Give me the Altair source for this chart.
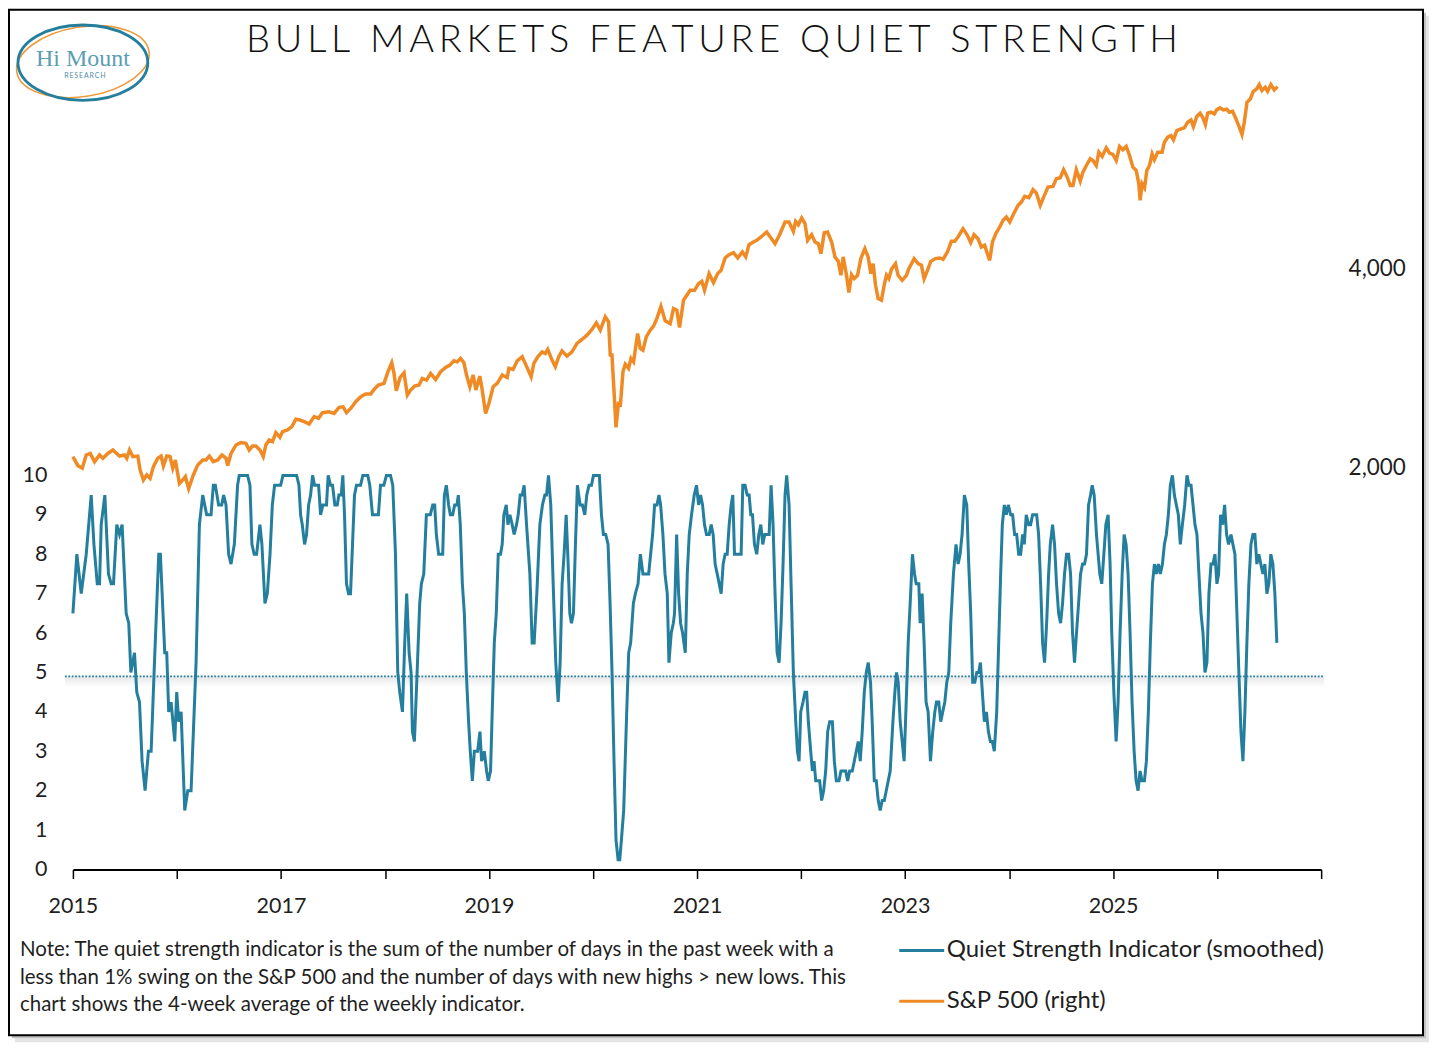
import altair as alt
import pandas as pd

# Quiet strength indicator (4-week average)
qs_year = [
    2015.000, 2015.038, 2015.080, 2015.128, 2015.176, 2015.202, 2015.234, 2015.256, 2015.272, 2015.307,
    2015.342, 2015.368, 2015.390, 2015.422, 2015.448, 2015.473, 2015.512, 2015.537, 2015.557, 2015.592,
    2015.614, 2015.640, 2015.665, 2015.694, 2015.726, 2015.752, 2015.784, 2015.825, 2015.841, 2015.883,
    2015.902, 2015.921, 2015.944, 2015.979, 2015.998, 2016.017, 2016.040, 2016.075, 2016.104, 2016.136,
    2016.184, 2016.216, 2016.248, 2016.286, 2016.328, 2016.350, 2016.369, 2016.401, 2016.430, 2016.449,
    2016.472, 2016.497, 2016.520, 2016.552, 2016.583, 2016.599, 2016.679, 2016.702, 2016.721, 2016.743,
    2016.766, 2016.798, 2016.817, 2016.846,
    2016.869, 2016.895, 2016.917, 2016.939, 2016.997, 2017.019, 2017.151, 2017.173, 2017.189, 2017.205,
    2017.227, 2017.246, 2017.266, 2017.285, 2017.304, 2017.323, 2017.362, 2017.381, 2017.403, 2017.438,
    2017.454, 2017.477, 2017.496, 2017.518, 2017.541, 2017.557, 2017.579, 2017.595, 2017.611, 2017.630,
    2017.650, 2017.669, 2017.688, 2017.707, 2017.726, 2017.765, 2017.787, 2017.835, 2017.854, 2017.880,
    2017.937, 2017.957, 2017.989, 2018.014, 2018.053, 2018.075, 2018.101, 2018.123, 2018.142, 2018.168,
    2018.190, 2018.209, 2018.232, 2018.251, 2018.264, 2018.283, 2018.309, 2018.334, 2018.350, 2018.373,
    2018.398, 2018.436, 2018.459, 2018.478, 2018.494, 2018.516, 2018.555, 2018.571, 2018.590, 2018.612,
    2018.628, 2018.651, 2018.670, 2018.692, 2018.705, 2018.724, 2018.744, 2018.763, 2018.782, 2018.804,
    2018.820, 2018.840, 2018.859,
    2018.891, 2018.913, 2018.929, 2018.955, 2018.977, 2018.993, 2019.015, 2019.031, 2019.051, 2019.070,
    2019.089, 2019.111, 2019.127, 2019.143, 2019.166, 2019.182, 2019.201, 2019.223, 2019.242, 2019.265,
    2019.281, 2019.300, 2019.319, 2019.338, 2019.361, 2019.393, 2019.415, 2019.434, 2019.460, 2019.489,
    2019.514, 2019.537, 2019.553, 2019.572, 2019.594, 2019.617, 2019.642, 2019.665, 2019.684, 2019.703,
    2019.722, 2019.742, 2019.761, 2019.777, 2019.793, 2019.812, 2019.831, 2019.850, 2019.876, 2019.898,
    2019.921, 2019.940, 2019.962, 2019.985, 2020.004, 2020.061, 2020.081, 2020.100, 2020.122, 2020.145,
    2020.164, 2020.183, 2020.202, 2020.221, 2020.241, 2020.257, 2020.273, 2020.295, 2020.321, 2020.343,
    2020.362, 2020.388, 2020.407, 2020.433, 2020.455, 2020.480, 2020.500, 2020.535, 2020.554, 2020.573,
    2020.592, 2020.615, 2020.634, 2020.650, 2020.672, 2020.692, 2020.714, 2020.730, 2020.752, 2020.772,
    2020.784, 2020.804, 2020.823, 2020.842, 2020.861,
    2020.887, 2020.906, 2020.925, 2020.947, 2020.973, 2020.995, 2021.015, 2021.034, 2021.053, 2021.072,
    2021.091, 2021.117, 2021.136, 2021.155, 2021.174, 2021.194, 2021.213, 2021.232, 2021.251, 2021.270,
    2021.290, 2021.309, 2021.328, 2021.344, 2021.360, 2021.424, 2021.440, 2021.462, 2021.482, 2021.501,
    2021.517, 2021.533, 2021.552, 2021.574, 2021.594, 2021.613, 2021.632, 2021.651, 2021.693, 2021.712,
    2021.731, 2021.750, 2021.770, 2021.789, 2021.808, 2021.827, 2021.846, 2021.862, 2021.885, 2021.904,
    2021.926, 2021.949, 2021.965, 2021.981, 2021.997, 2022.019, 2022.038, 2022.054, 2022.070, 2022.093,
    2022.109, 2022.125, 2022.141, 2022.179, 2022.198, 2022.217, 2022.237, 2022.256, 2022.275, 2022.301,
    2022.320, 2022.339, 2022.365, 2022.384, 2022.429, 2022.448, 2022.467, 2022.492, 2022.512, 2022.531,
    2022.550, 2022.569, 2022.588, 2022.608, 2022.627, 2022.646, 2022.668, 2022.684, 2022.704, 2022.723,
    2022.742, 2022.761, 2022.780, 2022.800, 2022.819, 2022.838, 2022.857,
    2022.883, 2022.902, 2022.918, 2022.934, 2022.953, 2022.972, 2022.991, 2023.011, 2023.030, 2023.049,
    2023.071, 2023.091, 2023.107, 2023.132, 2023.145, 2023.164, 2023.183, 2023.202, 2023.222, 2023.244,
    2023.266, 2023.286, 2023.302, 2023.324, 2023.343, 2023.362, 2023.382, 2023.401, 2023.420, 2023.439,
    2023.465, 2023.490, 2023.510, 2023.529, 2023.548, 2023.570, 2023.593, 2023.612, 2023.631, 2023.650,
    2023.670, 2023.689, 2023.708, 2023.724, 2023.743, 2023.762, 2023.782, 2023.801, 2023.820, 2023.839,
    2023.858, 2023.881, 2023.900, 2023.919, 2023.935, 2023.954, 2023.973, 2023.993, 2024.015, 2024.034,
    2024.053, 2024.073, 2024.092, 2024.111, 2024.130, 2024.146, 2024.165, 2024.188, 2024.207, 2024.226,
    2024.265, 2024.284, 2024.303, 2024.322, 2024.341, 2024.361, 2024.380, 2024.396, 2024.418, 2024.437,
    2024.456, 2024.476, 2024.495, 2024.514, 2024.533, 2024.552, 2024.572, 2024.591, 2024.610, 2024.629,
    2024.648, 2024.668, 2024.687, 2024.706, 2024.725, 2024.744, 2024.764, 2024.783, 2024.799, 2024.818,
    2024.840,
    2024.872, 2024.891, 2024.911, 2024.930, 2024.952, 2024.971, 2024.987, 2025.007, 2025.029, 2025.048,
    2025.067, 2025.087, 2025.106, 2025.125, 2025.144, 2025.163, 2025.182, 2025.202, 2025.221, 2025.240,
    2025.259, 2025.278, 2025.301, 2025.320, 2025.339, 2025.358, 2025.378, 2025.397, 2025.416, 2025.435,
    2025.454, 2025.474, 2025.493, 2025.512, 2025.531, 2025.550, 2025.570, 2025.589, 2025.608, 2025.627,
    2025.646, 2025.666, 2025.688, 2025.710, 2025.730, 2025.749, 2025.768, 2025.787, 2025.806, 2025.825,
    2025.845, 2025.864, 2025.883, 2025.902, 2025.921, 2025.941, 2025.960, 2025.979, 2025.998, 2026.014,
    2026.033, 2026.053, 2026.072, 2026.091, 2026.110, 2026.133, 2026.152, 2026.171, 2026.190, 2026.209,
    2026.229, 2026.248, 2026.267, 2026.286, 2026.305, 2026.325, 2026.344, 2026.363, 2026.382, 2026.401,
    2026.420, 2026.440, 2026.459, 2026.478, 2026.497, 2026.516, 2026.536, 2026.555, 2026.574,
]
qs_value = [
    6.5, 8.0, 7.0, 8.0, 9.5, 8.25, 7.25, 7.25, 8.75, 9.5,
    7.5, 7.25, 7.25, 8.75, 8.5, 8.75, 6.5, 6.25, 5.0, 5.5,
    4.5, 4.25, 2.75, 2.0, 3.0, 3.0, 5.25, 8.0, 8.0, 5.5,
    5.5, 4.0, 4.25, 3.25, 4.5, 3.75, 4.0, 1.5, 2.0, 2.0,
    5.25, 8.75, 9.5, 9.0, 9.0, 9.75, 9.75, 9.25, 9.25, 9.5,
    9.25, 8.0, 7.75, 8.25, 9.75, 10, 10, 9.75, 8.25, 8.0,
    8.0, 8.75, 8.25, 6.75,
    7.0, 8.0, 9.25, 9.75, 9.75, 10, 10, 9.75, 9.0, 8.75,
    8.25, 8.5, 9.25, 9.5, 10, 9.75, 9.75, 9.0, 9.25, 9.25,
    10, 9.75, 9.75, 9.25, 9.25, 9.5, 9.5, 10, 9.0, 7.25,
    7.0, 7.0, 8.25, 9.5, 9.75, 9.75, 10, 10, 9.75, 9.0,
    9.0, 9.75, 9.75, 10, 10, 9.75, 8.0, 5.0, 4.5, 4.0,
    5.75, 7.0, 5.5, 5.0, 3.5, 3.25, 5.0, 6.75, 7.25, 7.5,
    9.0, 9.0, 9.25, 9.25, 8.5, 8.0, 8.0, 9.5, 9.75, 9.25,
    9.0, 9.0, 9.25, 9.25, 9.5, 8.75, 7.25, 6.5, 5.0, 3.75,
    3.0, 2.25, 3.0,
    3.0, 3.5, 2.75, 3.0, 2.5, 2.25, 2.5, 4.0, 5.75, 6.5,
    8.0, 8.0, 8.25, 9.0, 9.25, 8.75, 9.0, 8.75, 8.5, 8.75,
    9.0, 9.5, 9.5, 9.75, 8.75, 7.5, 5.75, 5.75, 7.0, 8.75,
    9.25, 9.5, 9.5, 10, 9.25, 7.25, 5.25, 4.25, 5.25, 7.25,
    8.0, 9.0, 7.75, 6.5, 6.25, 6.5, 8.25, 9.75, 9.25, 9.25,
    9.0, 9.5, 9.75, 9.75, 10, 10, 9.0, 8.5, 8.5, 8.25,
    6.75, 5.0, 2.75, 0.75, 0.25, 0.25, 0.75, 1.5, 3.75, 5.5,
    5.75, 6.75, 7.0, 7.25, 8.0, 7.5, 7.5, 7.5, 8.0, 8.5,
    9.25, 9.25, 9.5, 9.25, 8.5, 7.5, 7.0, 5.25, 6.0, 6.25,
    6.5, 8.5, 7.0, 6.25, 6.0,
    5.5, 7.5, 8.5, 9.0, 9.5, 9.75, 9.25, 9.5, 9.25, 8.75,
    8.5, 8.5, 8.75, 8.5, 7.75, 7.5, 7.25, 7.0, 7.75, 8.0,
    8.0, 8.75, 9.25, 9.5, 8.0, 8.0, 9.75, 9.75, 9.5, 9.5,
    9.0, 9.0, 8.25, 8.0, 8.5, 8.75, 8.25, 8.5, 8.5, 9.75,
    8.75, 7.0, 5.5, 5.25, 6.25, 7.75, 9.5, 10, 9.25, 7.25,
    5.0, 3.75, 3.0, 2.75, 4.0, 4.25, 4.5, 4.5, 3.75, 3.0,
    2.5, 2.75, 2.25, 2.25, 1.75, 2.0, 2.5, 3.5, 3.75, 3.75,
    2.75, 2.25, 2.25, 2.5, 2.5, 2.25, 2.5, 2.5, 2.75, 3.0,
    3.25, 2.75, 3.5, 4.5, 5.0, 5.25, 4.75, 3.75, 2.25, 2.25,
    1.75, 1.5, 1.75, 1.75, 2.0, 2.25, 2.5,
    3.75, 4.5, 5.0, 4.75, 3.75, 3.25, 2.75, 4.25, 5.75, 6.75,
    8.0, 7.5, 7.25, 7.25, 6.25, 7.0, 5.75, 4.25, 4.0, 2.75,
    3.5, 4.0, 4.25, 4.25, 3.75, 4.0, 4.25, 4.75, 5.0, 6.25,
    7.5, 8.25, 7.75, 8.0, 8.5, 9.5, 9.25, 7.75, 6.5, 4.75,
    4.75, 5.0, 5.0, 5.25, 4.5, 3.75, 4.0, 3.5, 3.25, 3.25,
    3.0, 4.0, 5.75, 7.5, 8.75, 9.25, 9.0, 9.25, 9.0, 9.0,
    8.5, 8.5, 8.0, 8.0, 8.5, 8.25, 9.0, 8.75, 8.75, 9.0,
    9.0, 8.5, 7.25, 5.75, 5.25, 6.25, 7.5, 8.25, 8.75, 8.25,
    7.25, 6.5, 6.25, 6.75, 7.5, 8.0, 8.0, 7.5, 6.0, 5.25,
    6.0, 6.75, 7.5, 7.75, 7.75, 8.0, 9.25, 9.5, 9.75, 9.5,
    8.5,
    7.5, 7.25, 8.0, 8.75, 9.0, 7.75, 6.0, 4.5, 3.25, 4.25,
    6.0, 7.5, 8.5, 8.25, 7.5, 6.0, 4.25, 3.0, 2.25, 2.0,
    2.5, 2.25, 2.25, 2.75, 4.0, 5.75, 7.25, 7.75, 7.5, 7.75,
    7.5, 7.75, 8.25, 8.5, 9.0, 9.75, 10, 9.5, 9.25, 9.0,
    8.25, 8.75, 9.25, 10, 9.75, 9.75, 9.25, 8.75, 8.5, 7.5,
    6.5, 6.0, 5.0, 5.25, 7.0, 7.75, 7.75, 8.0, 7.25, 7.5,
    9.0, 8.75, 9.25, 8.5, 8.25, 8.5, 8.25, 8.0, 6.5, 5.0,
    3.5, 2.75, 4.0, 5.75, 7.25, 8.25, 8.5, 8.5, 7.75, 8.0,
    7.75, 7.5, 7.75, 7.0, 7.25, 8.0, 7.75, 7.0, 5.75,
]

# S&P 500 (right axis, log scale)
spx_year = [
    2015.000, 2015.048, 2015.090, 2015.128, 2015.166, 2015.208, 2015.256, 2015.288, 2015.336, 2015.384,
    2015.448, 2015.496, 2015.518, 2015.544, 2015.576, 2015.624, 2015.646, 2015.678, 2015.710, 2015.742,
    2015.774, 2015.816, 2015.848, 2015.870, 2015.902, 2015.934, 2015.960, 2015.985, 2016.024, 2016.056,
    2016.081, 2016.113, 2016.158, 2016.200, 2016.248, 2016.280, 2016.312, 2016.350, 2016.392, 2016.433,
    2016.472, 2016.488, 2016.520, 2016.568, 2016.615, 2016.663, 2016.695, 2016.727, 2016.759, 2016.798,
    2016.830, 2016.855, 2016.887, 2016.919, 2016.951, 2016.990, 2017.015, 2017.063, 2017.105, 2017.143,
    2017.182, 2017.223, 2017.271, 2017.319, 2017.361, 2017.399, 2017.463, 2017.511, 2017.559, 2017.598,
    2017.630, 2017.671, 2017.719, 2017.767, 2017.815, 2017.863, 2017.895, 2017.937,
    2017.991, 2018.029, 2018.065, 2018.087, 2018.109, 2018.145, 2018.183, 2018.215, 2018.247, 2018.285,
    2018.327, 2018.359, 2018.400, 2018.439, 2018.487, 2018.535, 2018.583, 2018.624, 2018.663, 2018.695,
    2018.727, 2018.759, 2018.784, 2018.816, 2018.848, 2018.874, 2018.912, 2018.935, 2018.967, 2018.999,
    2019.040, 2019.079, 2019.127, 2019.175, 2019.191, 2019.232, 2019.271, 2019.319, 2019.360, 2019.405,
    2019.431, 2019.469, 2019.510, 2019.542, 2019.565, 2019.606, 2019.638, 2019.670, 2019.702, 2019.750,
    2019.798, 2019.846, 2019.894, 2019.942, 2019.990, 2020.032, 2020.070, 2020.118, 2020.150, 2020.166,
    2020.182, 2020.205, 2020.221, 2020.246, 2020.262, 2020.288, 2020.310, 2020.342, 2020.365, 2020.390,
    2020.429, 2020.454, 2020.480, 2020.512, 2020.550, 2020.582, 2020.614, 2020.653, 2020.694, 2020.742,
    2020.774, 2020.806, 2020.832,
    2020.870, 2020.902, 2020.934, 2020.976, 2021.014, 2021.046, 2021.072, 2021.116, 2021.158, 2021.199,
    2021.231, 2021.270, 2021.308, 2021.350, 2021.391, 2021.436, 2021.468, 2021.500, 2021.542, 2021.574,
    2021.615, 2021.670, 2021.711, 2021.750, 2021.798, 2021.846, 2021.884, 2021.926, 2021.948, 2021.974,
    2022.006, 2022.038, 2022.063, 2022.102, 2022.134, 2022.166, 2022.191, 2022.223, 2022.255, 2022.294,
    2022.326, 2022.358, 2022.383, 2022.405, 2022.437, 2022.460, 2022.485, 2022.511, 2022.543, 2022.575,
    2022.613, 2022.645, 2022.671, 2022.693, 2022.716, 2022.741, 2022.773, 2022.799, 2022.821, 2022.844,
    2022.869, 2022.908, 2022.933, 2022.972, 2023.013, 2023.036, 2023.087, 2023.125, 2023.157, 2023.183,
    2023.215, 2023.247, 2023.292, 2023.333, 2023.365, 2023.407, 2023.445, 2023.477, 2023.509, 2023.557,
    2023.599, 2023.631, 2023.663, 2023.701, 2023.733, 2023.765, 2023.791,
    2023.814, 2023.840, 2023.872, 2023.910, 2023.942, 2023.974, 2024.006, 2024.044, 2024.086, 2024.118,
    2024.150, 2024.191, 2024.230, 2024.262, 2024.300, 2024.332, 2024.374, 2024.422, 2024.454, 2024.492,
    2024.524, 2024.556, 2024.588, 2024.614, 2024.646, 2024.684, 2024.710, 2024.748, 2024.780, 2024.806,
    2024.838, 2024.863, 2024.895, 2024.934, 2024.966, 2024.998, 2025.030, 2025.062, 2025.094, 2025.126,
    2025.158, 2025.190, 2025.222, 2025.247, 2025.260, 2025.279, 2025.302, 2025.324, 2025.350, 2025.375,
    2025.397, 2025.429, 2025.471, 2025.493, 2025.525, 2025.557, 2025.580, 2025.612, 2025.653, 2025.685,
    2025.717, 2025.749, 2025.772, 2025.804, 2025.836, 2025.861, 2025.887, 2025.909, 2025.941, 2025.973,
    2025.996, 2026.028, 2026.060, 2026.092, 2026.117, 2026.149, 2026.181, 2026.213, 2026.239, 2026.261,
    2026.287, 2026.319, 2026.348, 2026.380, 2026.405, 2026.431, 2026.463, 2026.485, 2026.517, 2026.549,
    2026.581,
]
spx_value = [
    2080, 2016, 1998, 2092, 2103, 2044, 2092, 2068, 2103, 2128,
    2084, 2092, 2068, 2128, 2080, 2084, 1986, 1918, 1952, 1929,
    2009, 2068, 2084, 2014, 2084, 2080, 1998, 2056, 1895, 1918,
    1941, 1862, 1952, 2021, 2056, 2056, 2084, 2044, 2056, 2092,
    2068, 2016, 2103, 2166, 2184, 2178, 2128, 2158, 2158, 2128,
    2080, 2166, 2204, 2191, 2261, 2224, 2268, 2282, 2308, 2368,
    2362, 2348, 2330, 2390, 2376, 2423, 2431, 2417, 2468, 2473,
    2423, 2459, 2517, 2561, 2585, 2585, 2627, 2667,
    2682, 2793, 2881, 2777, 2615, 2738, 2783, 2576, 2621, 2657,
    2667, 2729, 2713, 2777, 2719, 2793, 2835, 2858, 2901, 2891,
    2925, 2881, 2761, 2651, 2761, 2621, 2751, 2621, 2417, 2502,
    2651, 2682, 2761, 2738, 2826, 2816, 2901, 2942, 2848, 2745,
    2875, 2942, 2993, 2976, 3018, 2908, 2842, 2942, 3003, 2948,
    2993, 3081, 3124, 3171, 3234, 3310, 3227, 3380, 3321, 2959,
    2959, 2561, 2303, 2517, 2473, 2793, 2868, 2826, 2925, 2891,
    3190, 3028, 3010, 3153, 3227, 3272, 3360, 3506, 3333, 3302,
    3478, 3458, 3256,
    3580, 3643, 3706, 3706, 3793, 3824, 3706, 3927, 3806, 3927,
    3972, 4146, 4194, 4223, 4146, 4233, 4161, 4342, 4382, 4408,
    4459, 4537, 4444, 4357, 4511, 4697, 4697, 4548, 4708, 4654,
    4763, 4670, 4408, 4495, 4382, 4357, 4209, 4526, 4537, 4382,
    4161, 4098, 3904, 4161, 3904, 3676, 3913, 3859, 3904, 4137,
    4282, 4161, 3927, 4065, 3771, 3601, 3580, 3771, 3904, 3859,
    3986, 4065, 3904, 3837, 3904, 3995, 4137, 4065, 4042, 3859,
    3972, 4098, 4137, 4146, 4127, 4233, 4392, 4392, 4459, 4590,
    4485, 4372, 4495, 4433, 4307, 4332, 4209,
    4112, 4382, 4511, 4617, 4724, 4779, 4697, 4835, 4976, 5034,
    5134, 5110, 5254, 5194, 4976, 5122, 5303, 5315, 5458, 5477,
    5631, 5502, 5333, 5333, 5631, 5414, 5586, 5736, 5850, 5816,
    5716, 5987, 5897, 6077, 5966, 5938, 5816, 6105, 6035, 6105,
    5918, 5683, 5618, 5364, 5063, 5364, 5290, 5618, 5716, 5950,
    5830, 5987, 5987, 6198, 6306, 6342, 6248, 6453, 6490, 6513,
    6642, 6696, 6543, 6774, 6853, 6758, 6589, 6853, 6877, 6837,
    6933, 6981, 6933, 6950, 6877, 6900, 6720, 6528, 6364, 6642,
    7119, 7202, 7396, 7456, 7569, 7413, 7498, 7396, 7569, 7430,
    7516,
]

threshold = 4.9
year_ticks = list(range(2015, 2028))
left_ticks = list(range(0, 11))
right_ticks = [2000, 4000]
series_names = ['Quiet Strength Indicator (smoothed)', 'S&P 500 (right)']
series_colors = ['#247e9d', '#ef8a25']
title_text = 'BULL MARKETS FEATURE QUIET STRENGTH'
note_lines = [
    'Note: The quiet strength indicator is the sum of the number of days in the past week with a',
    'less than 1% swing on the S&P 500 and the number of days with new highs > new lows. This',
    'chart shows the 4-week average of the weekly indicator.',
]

qs = pd.DataFrame({'year': qs_year, 'value': qs_value, 'series': series_names[0]})
spx = pd.DataFrame({'year': spx_year, 'value': spx_value, 'series': series_names[1]})
one = pd.DataFrame({'k': [0]})

W, H = 1250, 800
FONT = 'Lato'
INK = '#1f1f1f'

x_enc = alt.X(
    'year:Q',
    scale=alt.Scale(domain=[2015, 2027], nice=False, zero=False),
    axis=alt.Axis(
        values=year_ticks, format='d', title=None, grid=False, zindex=1,
        labelExpr="datum.value % 2 == 1 && datum.value < 2027 ? datum.label : ''",
        labelFlush=False, labelOverlap=False, labelFont=FONT, labelFontSize=21.5,
        labelColor=INK, labelPadding=17, domainColor='#000', domainWidth=2,
        tickColor='#000', tickWidth=1.5, tickSize=9,
    ),
)
left_scale = alt.Scale(domain=[0, 20.27], nice=False, zero=True)
right_scale = alt.Scale(type='log', domain=[496, 7945], nice=False)
color_enc = alt.Color(
    'series:N',
    scale=alt.Scale(domain=series_names, range=series_colors),
    legend=alt.Legend(
        title=None, orient='none', legendX=826, legendY=857, padding=0,
        symbolType='stroke', symbolSize=2025, symbolStrokeWidth=3,
        labelFont=FONT, labelFontSize=24, labelColor=INK, labelOffset=1,
        labelLimit=0, rowPadding=15,
    ),
)

# chart frame with a soft drop shadow
shadow_far = alt.Chart(one).mark_rect(color='#e4e4e4').encode(
    x=alt.value(-58), x2=alt.value(1358), y=alt.value(-55), y2=alt.value(973))
shadow_near = alt.Chart(one).mark_rect(color='#c4c4c4').encode(
    x=alt.value(-61), x2=alt.value(1355), y=alt.value(-58), y2=alt.value(969))
frame = alt.Chart(one).mark_rect(fill='white', stroke='#000', strokeWidth=2).encode(
    x=alt.value(-64), x2=alt.value(1352), y=alt.value(-61), y2=alt.value(966))

title = alt.Chart(one).mark_text(
    text='\u2009'.join(title_text), font=FONT, fontSize=38, fontWeight=300,
    color='#111', align='center', baseline='middle',
).encode(x=alt.value(640), y=alt.value(-30))

# logo
teal_ring = alt.Chart(one).mark_point(
    shape='M -1 0 A 1 0.58 0 1 0 1 0 A 1 0.58 0 1 0 -1 0 Z',
    size=16900, filled=False, stroke='#247e9d', strokeWidth=2.8, opacity=1,
).encode(x=alt.value(10), y=alt.value(-8))
orange_ring = alt.Chart(one).mark_point(
    shape='M -0.9877 0.1564 A 1 0.52 -9 1 0 0.9877 -0.1564 A 1 0.52 -9 1 0 -0.9877 0.1564 Z',
    size=17956, filled=False, stroke='#ef9a3c', strokeWidth=1.6, opacity=1,
).encode(x=alt.value(10), y=alt.value(-9))
logo_name = alt.Chart(one).mark_text(
    text='Hi Mount', font='Liberation Serif', fontSize=24, color='#5b9db3',
    align='center', baseline='middle',
).encode(x=alt.value(10), y=alt.value(-12))
logo_sub = alt.Chart(one).mark_text(
    text='\u2009'.join('RESEARCH'), font=FONT, fontSize=7, color='#4f8ea5',
    align='center', baseline='middle',
).encode(x=alt.value(12), y=alt.value(5))

# dotted reference line with a faint shadow
ref_shadow = alt.Chart(one).mark_rect(
    fill=alt.LinearGradient(
        gradient='linear', x1=0, x2=0, y1=0, y2=1,
        stops=[alt.GradientStop(color='#e6e6e6', offset=0),
               alt.GradientStop(color='#ffffff', offset=1)],
    )
).encode(
    x=alt.value(-8), x2=alt.value(1253),
    y=alt.YDatum(threshold, scale=left_scale, axis=None),
    y2=alt.Y2Datum(threshold - 0.27),
)
ref_line = alt.Chart(one).mark_rule(
    color='#247e9d', strokeWidth=1.6, strokeDash=[1.8, 1.6]
).encode(
    x=alt.value(-8), x2=alt.value(1253),
    y=alt.YDatum(threshold, scale=left_scale, axis=None),
)

spx_line = alt.Chart(spx).mark_line(strokeWidth=3.5).encode(
    x=x_enc,
    y=alt.Y('value:Q', scale=right_scale, axis=alt.Axis(
        orient='right', values=right_ticks, format=',', title=None, grid=False,
        domain=False, ticks=False, labelFont=FONT, labelFontSize=22.5, zindex=1,
        labelColor=INK, labelPadding=27)),
    color=color_enc,
)
qs_line = alt.Chart(qs).mark_line(strokeWidth=3).encode(
    x=x_enc,
    y=alt.Y('value:Q', scale=left_scale, axis=alt.Axis(
        orient='left', values=left_ticks, title=None, grid=False,
        domain=False, ticks=False, labelFont=FONT, labelFontSize=21.5, zindex=1,
        labelColor=INK, labelPadding=26)),
    color=color_enc,
)

note = alt.Chart(one).mark_text(
    text=note_lines, font=FONT, fontSize=20.5, lineHeight=27.5, color=INK,
    align='left', baseline='top',
).encode(x=alt.value(-53), y=alt.value(871))

chart = alt.layer(
    shadow_far, shadow_near, frame, title, orange_ring, teal_ring, logo_name, logo_sub,
    ref_shadow, ref_line, spx_line, qs_line, note,
).resolve_scale(
    y='independent'
).properties(
    width=W, height=H,
    autosize=alt.AutoSizeParams(type='none'),
    padding={'left': 65, 'top': 62, 'right': 109, 'bottom': 176},
).configure_view(
    stroke=None
).configure(
    background='white'
)

chart.save('out.html', embed_options={'renderer': 'svg', 'actions': False})
